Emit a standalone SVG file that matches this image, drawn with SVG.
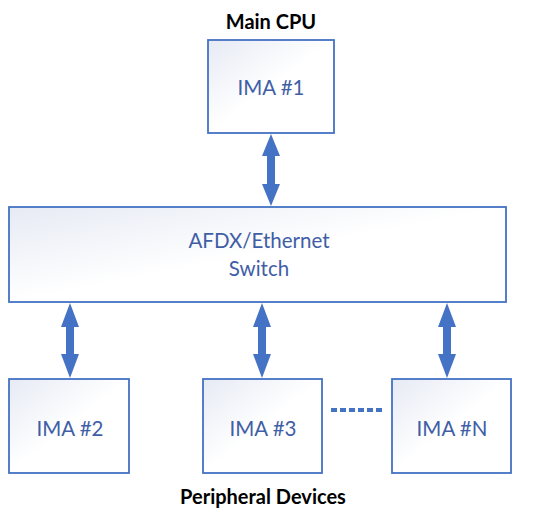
<svg xmlns="http://www.w3.org/2000/svg" width="550" height="520" viewBox="0 0 550 520">
<style>
.box{stroke:#4472C4;stroke-width:1.8;fill:url(#g)}
.lbl{font-family:Lato,"Open Sans","Liberation Sans",sans-serif;font-size:20.5px;fill:#3F5EA6;text-anchor:middle}
.ttl{font-family:Lato,"Open Sans","Liberation Sans",sans-serif;font-size:20px;font-weight:bold;fill:#000;text-anchor:middle}
.arr{stroke:#4472C4;stroke-width:8;fill:none}
.ah{fill:#4472C4}
</style>
<defs>
<linearGradient id="g" x1="0" y1="0" x2="1" y2="1">
<stop offset="0" stop-color="#E6EAF4"/>
<stop offset="0.5" stop-color="#FFFFFF"/>
<stop offset="1" stop-color="#FFFFFF"/>
</linearGradient>
</defs>
<text class="ttl" x="271" y="29">Main CPU</text>
<text class="ttl" x="263" y="504">Peripheral Devices</text>
<g id="ima1"><rect class="box" x="208" y="40" width="126" height="93"/><text class="lbl" x="271" y="95">IMA #1</text></g>
<g id="switch"><rect class="box" x="9" y="207" width="497" height="95"/><text class="lbl" x="259" y="248">AFDX/Ethernet</text><text class="lbl" x="259" y="276">Switch</text></g>
<g id="ima2"><rect class="box" x="9" y="379" width="120" height="94"/><text class="lbl" x="70" y="436">IMA #2</text></g>
<g id="ima3"><rect class="box" x="203" y="379" width="119" height="94"/><text class="lbl" x="263" y="436">IMA #3</text></g>
<g id="iman"><rect class="box" x="392" y="379" width="119" height="94"/><text class="lbl" x="452" y="436">IMA #N</text></g>
<g id="connectors">
<g transform="translate(271,0)"><line class="arr" x1="0" y1="150" x2="0" y2="190"/><polygon class="ah" points="0,134 -9,156 9,156"/><polygon class="ah" points="0,206 -9,184 9,184"/></g>
<g transform="translate(70,0)"><line class="arr" x1="0" y1="320" x2="0" y2="362"/><polygon class="ah" points="0,303 -9,327 9,327"/><polygon class="ah" points="0,378 -9,354 9,354"/></g>
<g transform="translate(262,0)"><line class="arr" x1="0" y1="320" x2="0" y2="362"/><polygon class="ah" points="0,303 -9,327 9,327"/><polygon class="ah" points="0,378 -9,354 9,354"/></g>
<g transform="translate(447,0)"><line class="arr" x1="0" y1="320" x2="0" y2="362"/><polygon class="ah" points="0,303 -9,327 9,327"/><polygon class="ah" points="0,378 -9,354 9,354"/></g>
<line x1="331" y1="410" x2="383" y2="410" stroke="#4472C4" stroke-width="4" stroke-dasharray="6,3"/>
</g>
</svg>
